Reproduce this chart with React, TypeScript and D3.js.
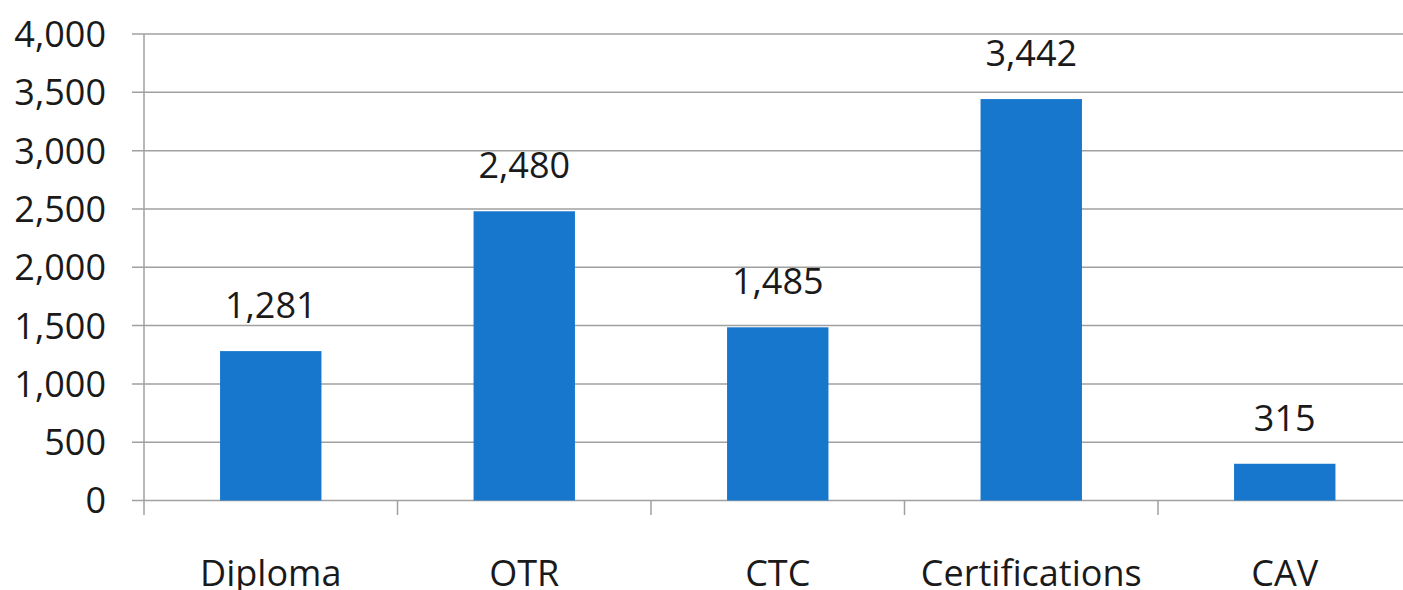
import React from "react";
import * as d3 from "d3";

const categories = ["Diploma", "OTR", "CTC", "Certifications", "CAV"];
const values = [1281, 2480, 1485, 3442, 315];
const yTicks = [0, 500, 1000, 1500, 2000, 2500, 3000, 3500, 4000];

const W = 1403;
const H = 590;

export default function App() {
    const axisX = 144;
    const x = d3.scaleBand<string>()
        .domain(categories)
        .range([axisX, axisX + 5 * 253.5])
        .paddingInner(0)
        .paddingOuter(0);

    const y = d3.scaleLinear()
        .domain([0, 4000])
        .range([500.5, 34]);

    const barW = x.bandwidth() * 0.4;
    const fmt = d3.format(",");
    const font = "'Open Sans', sans-serif";
    const gridColor = "#a0a0a0";

    return (
        <svg width={W} height={H} style={{ position: "absolute", left: 0, top: 0, background: "#fff" }}>
            {/* gridlines */}
            {yTicks.map(t => (
                <line key={t} x1={132} x2={W} y1={y(t)} y2={y(t)} stroke={gridColor} strokeWidth={1.5} />
            ))}
            {/* y axis line */}
            <line x1={axisX} x2={axisX} y1={y(4000)} y2={515} stroke={gridColor} strokeWidth={1.5} />
            {/* category ticks */}
            {categories.slice(1).map(c => (
                <line key={c} x1={x(c)!} x2={x(c)!} y1={y(0)} y2={515} stroke={gridColor} strokeWidth={1.5} />
            ))}
            {/* y tick labels */}
            {yTicks.map(t => (
                <text key={t} x={106} y={y(t)} dy="0.36em" textAnchor="end" fontFamily={font} fontSize={36} fill="#1a1a1a">
                    {fmt(t)}
                </text>
            ))}
            {/* bars */}
            {categories.map((c, i) => (
                <rect key={c}
                    x={x(c)! + (x.bandwidth() - barW) / 2}
                    y={y(values[i])}
                    width={barW}
                    height={y(0) - y(values[i])}
                    fill="#1777cd" />
            ))}
            {/* value labels */}
            {categories.map((c, i) => (
                <text key={c} x={x(c)! + x.bandwidth() / 2} y={y(values[i]) - 33} textAnchor="middle"
                    fontFamily={font} fontSize={36} fill="#1a1a1a">
                    {fmt(values[i])}
                </text>
            ))}
            {/* category labels */}
            {categories.map(c => (
                <text key={c} x={x(c)! + x.bandwidth() / 2} y={586} textAnchor="middle"
                    fontFamily={font} fontSize={36} fill="#1a1a1a">
                    {c}
                </text>
            ))}
        </svg>
    );
}
